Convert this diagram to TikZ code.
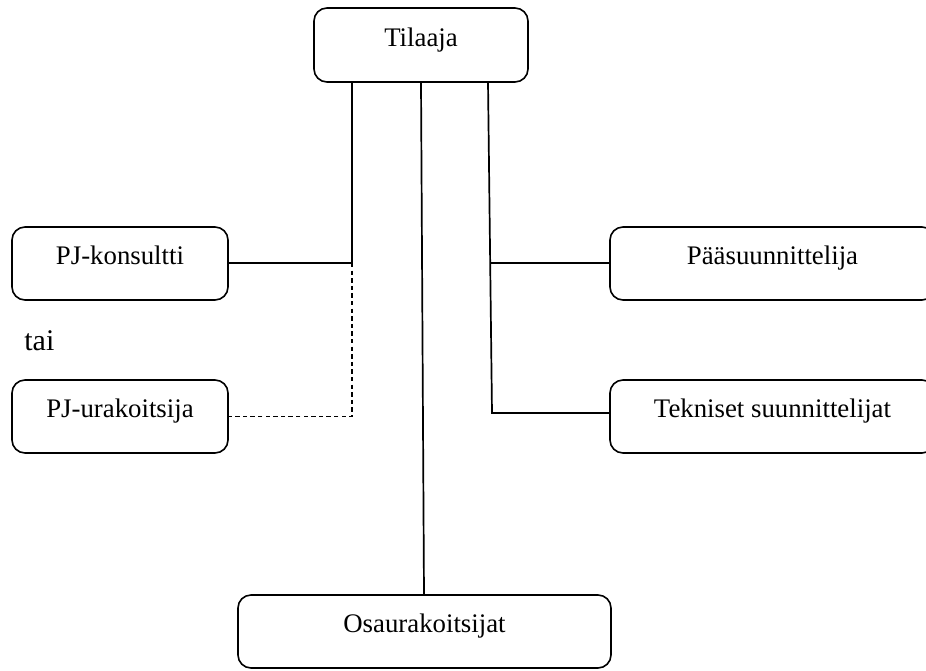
\documentclass[tikz,border=0pt]{standalone}
\usepackage{fontspec}
\setmainfont{Liberation Serif}
\begin{document}
\begin{tikzpicture}[x=0.5pt,y=-0.5pt,
  box/.style={draw, line width=0.8pt, rounded corners=6.5pt, inner sep=0pt,
    font=\fontsize{13.4}{15}\selectfont, text height=9pt, text depth=8pt},
  link/.style={line width=0.85pt},
  altlink/.style={line width=0.7pt, dash pattern=on 2.2pt off 1.6pt}]
\useasboundingbox (0,0) rectangle (926,670);
\clip (0,0) rectangle (926,670);

% organisation boxes
\node[box, minimum width=107pt, minimum height=37pt] (tilaaja) at (421,45) {Tilaaja};
\node[box, minimum width=108pt, minimum height=36.5pt] (pjk) at (120,263.5) {PJ-konsultti};
\node[box, minimum width=108pt, minimum height=36.5pt] (pju) at (120,416.5) {PJ-urakoitsija};
\node[box, minimum width=162.5pt, minimum height=36.5pt] (paa) at (772.5,263.5) {Pääsuunnittelija};
\node[box, minimum width=162.5pt, minimum height=36.5pt] (tek) at (772.5,416.5) {Tekniset suunnittelijat};
\node[box, minimum width=186.5pt, minimum height=36.5pt] (osa) at (424.5,631.5) {Osaurakoitsijat};

\node[font=\fontsize{15}{17}\selectfont, inner sep=0pt, anchor=base west] (tai) at (24,350) {tai};

% junction points
\coordinate (jl) at (352,263);
\coordinate (jr) at (490,263);
\coordinate (jd) at (492,413);

% connectors
\draw[link] (tilaaja.south -| jl) -- (jl) -- (pjk.east |- jl);
\draw[altlink] (jl) -- (jl |- pju.east) -- (pju.east);
\draw[link] (tilaaja.south) -- (424,595) -- (osa.north -| 424,0);
\draw[link] (488,82) -- (jd) -- (tek.west |- jd);
\draw[link] (jr) -- (paa.west |- jr);
\end{tikzpicture}
\end{document}
